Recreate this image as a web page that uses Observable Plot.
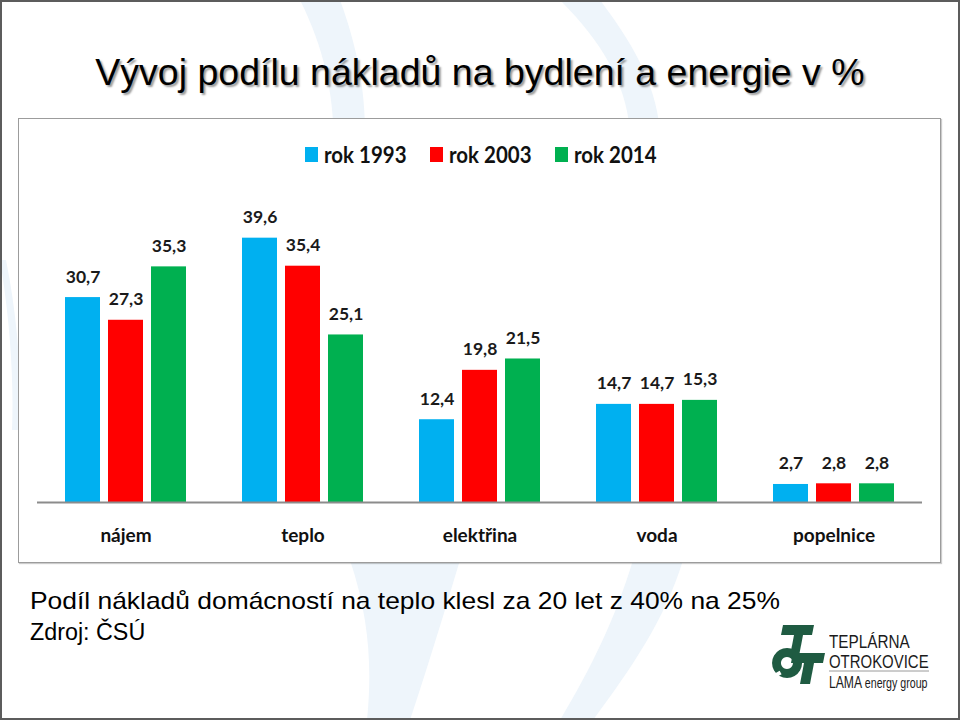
<!DOCTYPE html>
<html>
<head>
<meta charset="utf-8">
<script src="https://cdn.jsdelivr.net/npm/d3@7"></script>
<script src="https://cdn.jsdelivr.net/npm/@observablehq/plot@0.6"></script>
<style>
  html, body { margin: 0; padding: 0; background: #fff; }
  #slide { position: relative; width: 960px; height: 720px; box-sizing: border-box; border: 2px solid #5c5c5c; background: #fff; overflow: hidden; font-family: "Liberation Sans", Arial, sans-serif; }
  #bg { position: absolute; left: -2px; top: -2px; }
  #title { position: absolute; left: 0; top: 52px; width: 956px; text-align: center; font-size: 37.5px; line-height: 37px; color: #000; text-shadow: 2px 2px 2px rgba(0,0,0,0.4); white-space: nowrap; }
  #chartbox { position: absolute; left: 16px; top: 116px; width: 923px; height: 445px; box-sizing: border-box; border: 1px solid #9c9c9c; box-shadow: 1px 1px 1px rgba(0,0,0,0.2); background: #fff; }
  #legend { position: relative; height: 70px; font-family: Lato, sans-serif; font-weight: bold; }
  .lg-sw { position: absolute; width: 13px; height: 15px; top: 28px; }
  .lg-tx { position: absolute; top: 23.6px; font-size: 23px; line-height: 23px; transform: scaleX(0.89); transform-origin: left center; white-space: nowrap; color: #111; }
  #plot svg { display: block; }
  #plot g[aria-label="fx-axis tick label"] { font-size: 19px; font-weight: bold; font-family: Lato, sans-serif; fill: #111; }
  .cap { position: absolute; left: 28px; color: #000; white-space: nowrap; transform-origin: left center; }
  .logo-tx { position: absolute; color: #1b1b1b; transform-origin: left center; white-space: nowrap; font-family: "Liberation Sans", Arial, sans-serif; }
</style>
</head>
<body>
<div id="slide">
  <svg id="bg" width="960" height="720">
    <path d="M300,0 C330,60 340,120 330,200 L360,200 C372,120 362,60 340,0 Z" fill="#eef5fb"/>
    <path d="M560,0 C600,40 625,80 630,130 L660,130 C655,80 630,40 600,0 Z" fill="#eef5fb"/>
    <path d="M350,560 C370,620 372,670 367,720 L410,720 C430,660 445,610 460,560 Z" fill="#eef5fb"/>
    <path d="M633,560 C615,620 590,670 560,720 L593,720 C630,670 665,620 683,560 Z" fill="#eef5fb"/>
    <path d="M0,260 C10,320 14,380 12,430 L20,430 C22,380 18,320 6,260 Z" fill="#eef5fb"/>
  </svg>
  <div id="title">Vývoj podílu nákladů na bydlení a energie v %</div>
  <div id="chartbox">
    <div id="legend"></div>
    <div id="plot"></div>
  </div>
  <div class="cap" style="top:587px; font-size:24px; line-height:24px; transform: scaleX(1.1);">Podíl nákladů domácností na teplo klesl za 20 let z 40% na 25%</div>
  <div class="cap" style="top:618px; font-size:23.3px; line-height:24px;">Zdroj: ČSÚ</div>
  <svg id="logo" width="960" height="720" style="position:absolute;left:-2px;top:-2px;">
    <g fill="#1f5b42">
      <polygon points="783,625 814,625 812,635 781,635"/>
      <polygon points="794,635 803,635 799,656 790,656"/>
      <path d="M787,648 a15,15 0 1,0 0.1,0 Z M787,657 a6,6 0 1,1 -0.1,0 Z" fill-rule="evenodd"/>
      <polygon points="793,653 825,653 823,663 791,663"/>
      <polygon points="804,663 814,663 810,684 800,684"/>
    </g>
    <rect x="776" y="672" width="5" height="4" fill="#fff" transform="rotate(-30 778 674)"/>
    <line x1="829" y1="671" x2="929" y2="671" stroke="#9a9a9a" stroke-width="1"/>
  </svg>
  <div class="logo-tx" style="left:827px; top:631px; font-size:18px; line-height:18px; transform: scaleX(0.85);">TEPLÁRNA</div>
  <div class="logo-tx" style="left:827px; top:651px; font-size:18px; line-height:18px; transform: scaleX(0.83);">OTROKOVICE</div>
  <div class="logo-tx" style="left:827px; top:673px; font-size:16px; line-height:15px; transform: scaleX(0.76);">LAMA <span style="font-size:14px">energy group</span></div>
</div>
<script>
const categories = ["nájem", "teplo", "elektřina", "voda", "popelnice"];
const series = ["rok 1993", "rok 2003", "rok 2014"];
const values1993 = [30.7, 39.6, 12.4, 14.7, 2.7];
const values2003 = [27.3, 35.4, 19.8, 14.7, 2.8];
const values2014 = [35.3, 25.1, 21.5, 15.3, 2.8];
const seriesColors = ["#00B0F0", "#FF0000", "#00B050"];

const seriesValues = [values1993, values2003, values2014];
const data = [];
categories.forEach((c, i) => {
  series.forEach((s, j) => {
    data.push({category: c, series: s, value: seriesValues[j][i]});
  });
});

// legend (HTML, above the SVG)
const legend = document.getElementById("legend");
const legendLeft = [286, 411, 536];
series.forEach((s, j) => {
  const sw = document.createElement("div");
  sw.className = "lg-sw";
  sw.style.left = legendLeft[j] + "px";
  sw.style.background = seriesColors[j];
  legend.appendChild(sw);
  const tx = document.createElement("div");
  tx.className = "lg-tx";
  tx.style.left = (legendLeft[j] + 19) + "px";
  tx.textContent = s;
  legend.appendChild(tx);
});

const fmt = v => v.toFixed(1).replace(".", ",");

const chart = Plot.plot({
  width: 921,
  height: 373,
  marginTop: 46,
  marginBottom: 60,
  marginLeft: 17,
  marginRight: 17,
  style: {fontFamily: "Lato, sans-serif", background: "transparent", overflow: "visible"},
  fx: {domain: categories, padding: 0, label: null},
  x: {domain: series, paddingInner: 0.18, paddingOuter: 0.606, axis: null},
  y: {domain: [0, 40], axis: null},
  color: {domain: series, range: seriesColors},
  marks: [
    Plot.barY(data, {fx: "category", x: "series", y: "value", fill: "series"}),
    Plot.ruleY([0], {stroke: "#8c8c8c", strokeWidth: 2}),
    Plot.text(data, {
      fx: "category", x: "series", y: "value",
      text: d => fmt(d.value),
      lineAnchor: "bottom", dy: -15,
      fontSize: 17.5, fontWeight: "bold", fill: "#1a1a1a"
    }),
    Plot.axisFx({anchor: "bottom", label: null, tickSize: 0, tickPadding: 26, fontSize: 19, fontWeight: "bold"})
  ]
});
document.getElementById("plot").appendChild(chart);
</script>
</body>
</html>
